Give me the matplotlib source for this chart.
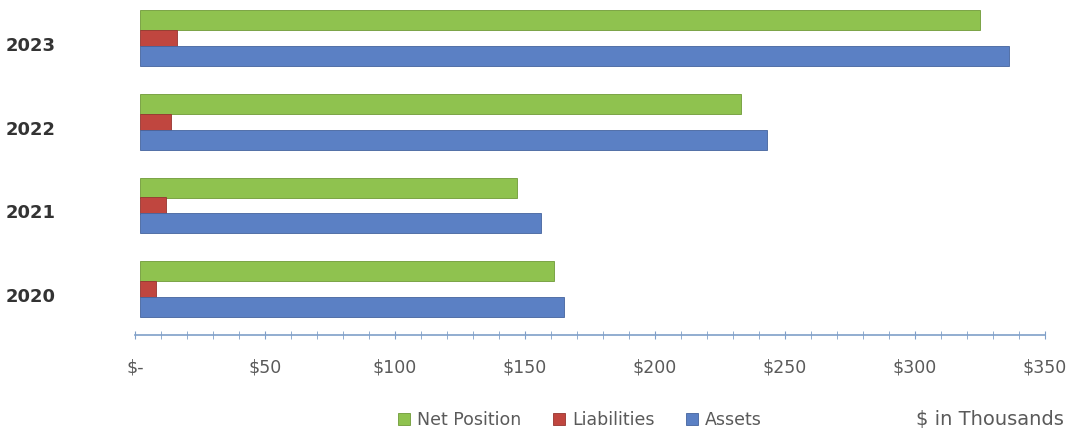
import numpy as np
import matplotlib
matplotlib.use("Agg")
import matplotlib.pyplot as plt
from matplotlib.ticker import MultipleLocator, FuncFormatter

# Data ($ in thousands)
years = ["2020", "2021", "2022", "2023"]
net_position = [159, 145, 231, 323]
liabilities = [6, 10, 12, 14]
assets = [163, 154, 241, 334]

green = "#8fc24f"
red = "#c0463f"
blue = "#5b80c4"
grey = "#5a5a5a"

plt.rcParams['font.family'] = ['DejaVu Sans']

fig = plt.figure(figsize=(10.75, 4.34), dpi=100)
ax = fig.add_axes([135/1075, (434-335)/434, 910/1075, 335/434])

y = np.arange(len(years))
h = 0.24
off = 0.215
depth = 2  # small shift for the 3-D look of the original
b1 = ax.barh(y + off, net_position, left=depth, height=h, color=green, edgecolor="#6f9a38", linewidth=0.6)
b2 = ax.barh(y, liabilities, left=depth, height=h * 0.8, color=red, edgecolor="#963530", linewidth=0.6)
b3 = ax.barh(y - off, assets, left=depth, height=h, color=blue, edgecolor="#45649e", linewidth=0.6)

ax.set_xlim(0, 350)
ax.set_ylim(-0.55, 3.46)

ax.set_yticks(y - 0.07)
ax.set_yticklabels(years, fontsize=13, fontweight="bold", color="#333333")
ax.tick_params(axis="y", length=0, pad=93)
for lab in ax.get_yticklabels():
    lab.set_horizontalalignment("left")

ax.xaxis.set_major_locator(MultipleLocator(50))
ax.xaxis.set_minor_locator(MultipleLocator(10))
ax.xaxis.set_major_formatter(FuncFormatter(lambda v, p: "$-" if v == 0 else f"${v:.0f}"))
ax.tick_params(axis="x", which="both", direction="inout", length=6, color="#7f9fc8",
               labelsize=12.5, labelcolor=grey, pad=14)

for s in ["top", "right", "left"]:
    ax.spines[s].set_visible(False)
ax.spines["bottom"].set_color("#7f9fc8")
ax.spines["bottom"].set_linewidth(1.2)

fig.legend([b1, b2, b3], ["Net Position", "Liabilities", "Assets"], ncol=3, frameon=False,
           loc="center", bbox_to_anchor=(580/1075, 14/434), handlelength=0.7, handleheight=0.7,
           handletextpad=0.4, columnspacing=1.8, fontsize=12.5, labelcolor=grey)
fig.text(990/1075, 14/434, "$ in Thousands", ha="center", va="center", fontsize=14, color=grey)

fig.savefig("out.png", dpi=100)
